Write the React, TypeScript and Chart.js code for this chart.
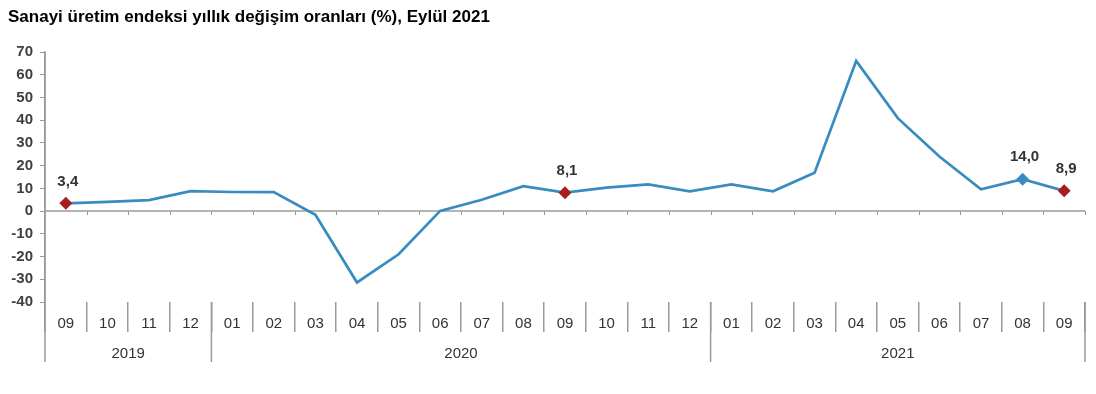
import React, { useEffect, useRef } from "react";
import { Chart, registerables } from "chart.js";
Chart.register(...registerables);

const title = "Sanayi üretim endeksi yıllık değişim oranları (%), Eylül 2021";
const months = ["09","10","11","12","01","02","03","04","05","06","07","08","09","10","11","12","01","02","03","04","05","06","07","08","09"];
const years = ["2019", "2020", "2021"];
const yearSpans = [4, 12, 9];
const values = [3.4, 4.1, 4.8, 8.8, 8.4, 8.4, -1.6, -31.4, -19.0, 0.1, 5.0, 11.0, 8.1, 10.3, 11.8, 8.7, 11.8, 8.7, 16.9, 66.1, 40.9, 24.0, 9.6, 14.0, 8.9];
const redPoints = [0, 12, 24];
const bluePoints = [23];
const labelledPoints = [0, 12, 23, 24];
const yMin = -40;
const yMax = 70;
const yStep = 10;

const LINE = "#3A8CC0";
const RED = "#A51E22";
const AXIS = "#9A9A9A";
const TEXT = "#333333";
const FONT = "'Liberation Sans', Arial, sans-serif";

const decorPlugin = {
  id: "decor",
  beforeDatasetsDraw(chart: any) {
    const { ctx, chartArea, scales } = chart;
    const x = scales.x;
    const y = scales.y;
    const y0 = y.getPixelForValue(0);
    ctx.save();
    ctx.strokeStyle = AXIS;
    ctx.lineWidth = 1.5;
    ctx.beginPath();
    ctx.moveTo(chartArea.left, y0);
    ctx.lineTo(chartArea.right, y0);
    ctx.stroke();
    ctx.lineWidth = 1;
    const n = months.length;
    const w = (chartArea.right - chartArea.left) / n;
    for (let i = 1; i <= n; i++) {
      const px = Math.round(x.getPixelForValue(i - 1) + w / 2) + 0.5;
      ctx.beginPath();
      ctx.moveTo(px, y0);
      ctx.lineTo(px, y0 + 4);
      ctx.stroke();
    }
    ctx.restore();
  },
  afterDraw(chart: any) {
    const { ctx, chartArea, scales } = chart;
    const x = scales.x;
    const y = scales.y;
    const n = months.length;
    const w = (chartArea.right - chartArea.left) / n;
    ctx.save();
    // title
    ctx.fillStyle = "#000";
    ctx.font = `bold 17px ${FONT}`;
    ctx.textAlign = "left";
    ctx.textBaseline = "middle";
    ctx.fillText(title, 8, 17);
    ctx.strokeStyle = AXIS;
    ctx.lineWidth = 1.5;
    // year separators
    let idx = 0;
    const bottom = chartArea.bottom + 60;
    const bounds = [0];
    yearSpans.forEach((s) => { idx += s; bounds.push(idx); });
    bounds.forEach((b) => {
      const px = b === 0 ? chartArea.left : x.getPixelForValue(b - 1) + w / 2;
      ctx.beginPath();
      ctx.moveTo(px, b === 0 ? chartArea.top : chartArea.bottom);
      ctx.lineTo(px, bottom);
      ctx.stroke();
    });
    // year labels
    ctx.fillStyle = TEXT;
    ctx.font = `15px ${FONT}`;
    ctx.textAlign = "center";
    ctx.textBaseline = "middle";
    let start = 0;
    years.forEach((yr, k) => {
      const end = start + yearSpans[k] - 1;
      const cx = (x.getPixelForValue(start) + x.getPixelForValue(end)) / 2;
      ctx.fillText(yr, cx, chartArea.bottom + 52);
      start = end + 1;
    });
    // data labels
    ctx.font = `bold 15px ${FONT}`;
    ctx.fillStyle = TEXT;
    labelledPoints.forEach((i) => {
      const px = x.getPixelForValue(i);
      const py = y.getPixelForValue(values[i]);
      ctx.fillText(values[i].toFixed(1).replace(".", ","), px + 2, py - 22);
    });
    ctx.restore();
  },
};

export default function App() {
  const ref = useRef<HTMLCanvasElement>(null);
  useEffect(() => {
    if (!ref.current) return;
    const pointColors = values.map((_, i) =>
      redPoints.includes(i) ? RED : LINE
    );
    const pointRadius = values.map((_, i) =>
      redPoints.includes(i) || bluePoints.includes(i) ? 6.5 : 0
    );
    const chart = new Chart(ref.current, {
      type: "line",
      data: {
        labels: months,
        datasets: [
          {
            data: values,
            borderColor: LINE,
            borderWidth: 2.75,
            pointStyle: "rectRot",
            pointRadius,
            pointBackgroundColor: pointColors,
            pointBorderColor: pointColors,
            pointBorderWidth: 0,
            tension: 0,
          },
        ],
      },
      options: {
        animation: false,
        responsive: false,
        layout: { padding: { top: 52, left: 0, right: 11, bottom: 0 } },
        plugins: {
          legend: { display: false },
          tooltip: { enabled: false },
          title: { display: false },
        },
        scales: {
          x: {
            offset: true,
            grid: {
              offset: true,
              drawOnChartArea: false,
              drawTicks: true,
              tickLength: 30,
              color: AXIS,
              lineWidth: 1.5,
            },
            border: { display: false },
            ticks: {
              color: TEXT,
              font: { family: FONT, size: 15 },
              padding: -17,
              maxRotation: 0,
              autoSkip: false,
            },
            afterFit: (s: any) => { s.height = 92; },
          },
          y: {
            min: yMin,
            max: yMax,
            grid: {
              drawOnChartArea: false,
              drawTicks: true,
              tickLength: 5,
              color: AXIS,
            },
            border: { display: true, color: AXIS, width: 1.5 },
            ticks: {
              stepSize: yStep,
              color: "#404040",
              padding: 7,
              font: { family: FONT, size: 15, weight: "bold" },
            },
            afterFit: (s: any) => { s.width = 45; },
          },
        },
      },
      plugins: [decorPlugin],
    });
    return () => chart.destroy();
  }, []);
  return (
    <div style={{ position: "absolute", left: 0, top: 0, width: 1096, height: 394, background: "#fff" }}>
      <canvas ref={ref} width={1096} height={394} style={{ display: "block" }} />
    </div>
  );
}
